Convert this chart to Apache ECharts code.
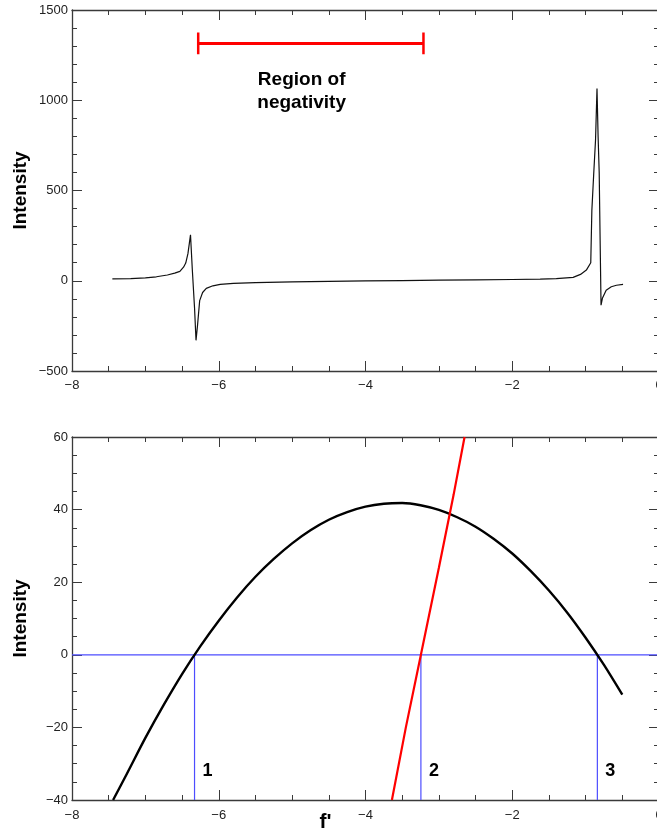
<!DOCTYPE html>
<html><head><meta charset="utf-8">
<script src="https://cdn.jsdelivr.net/npm/echarts@6/dist/echarts.min.js"></script>
<style>html,body{margin:0;padding:0;background:#fff}#c{width:657px;height:835px}</style>
</head><body><div id="c"></div>
<script>
// ---- Top panel: spectrum ----
const topX = [-7.45,-7.2,-7.0,-6.85,-6.7,-6.6,-6.53,-6.48,-6.45,-6.42,-6.40,-6.385,-6.36,-6.33,-6.31,-6.29,-6.26,-6.22,-6.17,-6.08,-5.98,-5.8,-5.5,-5.0,-4.5,-4.0,-3.5,-3.0,-2.5,-2.0,-1.62,-1.4,-1.17,-1.07,-0.99,-0.93,-0.915,-0.89,-0.865,-0.845,-0.83,-0.815,-0.805,-0.79,-0.77,-0.72,-0.65,-0.58,-0.49];
const topY = [10,12,16,22,32,42,52,75,98,150,210,255,60,-150,-330,-250,-110,-65,-42,-28,-20,-14,-10,-6,-3,-1,1,3,5,7,9,12,19,35,59,100,390,590,780,1065,800,600,300,-135,-95,-52,-33,-25,-20];
const regionX = [-6.28, -3.21];
const regionY = 1315;
const regionCap = 60;
const regionText = 'Region of\nnegativity';
const regionTextAt = [-4.87, 1050];

// ---- Bottom panel ----
const curveX = [-7.44,-7.25,-7.0,-6.75,-6.5,-6.25,-6.0,-5.75,-5.5,-5.25,-5.0,-4.75,-4.5,-4.25,-4.0,-3.75,-3.5,-3.25,-3.0,-2.75,-2.5,-2.25,-2.0,-1.75,-1.5,-1.25,-1.0,-0.75,-0.5];
const curveY = [-40,-32.7,-22.9,-13.8,-5.3,2.4,9.4,15.8,21.5,26.4,30.7,34.3,37.2,39.3,40.8,41.6,41.8,41.2,39.9,37.9,35.3,31.9,27.9,23.1,17.7,11.6,4.7,-2.8,-11.0];
const redX = [-3.64,-3.45,-3.245,-3.0,-2.8,-2.65];
const redY = [-40,-20,0,24,44,60];
const roots = [-6.33, -3.245, -0.84];
const rootLabels = ['1','2','3'];
const rootLabelY = -32;

const xTicks = {min:-8, max:0, interval:2};
const yTopTicks = {min:-500, max:1500, interval:500};
const yBotTicks = {min:-40, max:60, interval:20};

const zip = (a,b) => a.map((v,i)=>[v,b[i]]);
const FONT = 'Liberation Sans, Arial, sans-serif';
const AX = '#3a3a3a';
const fmt = v => v < 0 ? '\u2212' + Math.abs(v) : String(v);

function xAx(grid, pos, labels, margin, extra) {
  return Object.assign({
    type:'value', gridIndex:grid, position:pos, min:xTicks.min, max:xTicks.max, interval:xTicks.interval,
    axisLine:{show:true, onZero:false, lineStyle:{color:AX, width:1.3}},
    axisTick:{show:true, inside:true, length:10, lineStyle:{color:AX}},
    minorTick:{show:true, splitNumber:4, length:5, lineStyle:{color:AX}},
    splitLine:{show:false}, minorSplitLine:{show:false},
    axisLabel:{show:labels, formatter:fmt, color:'#222', fontSize:13, fontFamily:FONT, margin:margin}
  }, extra||{});
}
function yAx(grid, pos, t, split, labels, extra) {
  return Object.assign({
    type:'value', gridIndex:grid, position:pos, min:t.min, max:t.max, interval:t.interval,
    axisLine:{show:true, onZero:false, lineStyle:{color:AX, width:1.3}},
    axisTick:{show:true, inside:true, length:10, lineStyle:{color:AX}},
    minorTick:{show:true, splitNumber:split, length:5, lineStyle:{color:AX}},
    splitLine:{show:false}, minorSplitLine:{show:false},
    axisLabel:{show:labels, formatter:fmt, color:'#222', fontSize:13, fontFamily:FONT, margin:4}
  }, extra||{});
}
const yName = {name:'Intensity', nameLocation:'middle', nameGap:42, nameRotate:90, nameMoveOverlap:false,
  nameTextStyle:{fontFamily:FONT, fontWeight:'bold', fontSize:19, color:'#000'}};

const chart = echarts.init(document.getElementById('c'), null, {renderer:'canvas'});
chart.setOption({
  animation:false,
  backgroundColor:'#fff',
  grid:[
    {left:72, top:10, width:587, height:361, outerBoundsMode:'none', containLabel:false},
    {left:72, top:437, width:587, height:363, outerBoundsMode:'none', containLabel:false}
  ],
  xAxis:[
    xAx(0,'bottom',true,8),
    xAx(0,'top',false,8),
    xAx(1,'bottom',true,9,{name:"f'", nameLocation:'middle', nameGap:12, nameMoveOverlap:false,
      nameTextStyle:{fontFamily:FONT, fontWeight:'bold', fontSize:21, color:'#000', padding:[0,80,0,0], verticalAlign:'top'}}),
    xAx(1,'top',false,8)
  ],
  yAxis:[
    yAx(0,'left',yTopTicks,5,true,yName),
    yAx(0,'right',yTopTicks,5,false),
    yAx(1,'left',yBotTicks,4,true,yName),
    yAx(1,'right',yBotTicks,4,false)
  ],
  series:[
    {type:'line', xAxisIndex:0, yAxisIndex:0, data:zip(topX,topY), showSymbol:false,
      lineStyle:{color:'#111', width:1.2}},
    {type:'line', xAxisIndex:0, yAxisIndex:0, data:regionX.map(x=>[x,regionY]), showSymbol:false,
      lineStyle:{color:'#ff0000', width:3}},
    {type:'line', xAxisIndex:0, yAxisIndex:0, data:[[regionX[0],regionY-regionCap],[regionX[0],regionY+regionCap]], showSymbol:false,
      lineStyle:{color:'#ff0000', width:2.5}},
    {type:'line', xAxisIndex:0, yAxisIndex:0, data:[[regionX[1],regionY-regionCap],[regionX[1],regionY+regionCap]], showSymbol:false,
      lineStyle:{color:'#ff0000', width:2.5}},
    {type:'scatter', xAxisIndex:0, yAxisIndex:0, data:[{value:regionTextAt, name:regionText}], symbolSize:0,
      itemStyle:{color:'#000', opacity:1}, silent:true,
      label:{show:true, position:'top', distance:-23, formatter:p=>p.name, fontFamily:FONT, fontWeight:'bold', fontSize:19, lineHeight:23, color:'#000', opacity:1, align:'center', textBorderWidth:0}},
    // bottom
    {type:'line', xAxisIndex:2, yAxisIndex:2, data:[[xTicks.min,0],[xTicks.max,0]], showSymbol:false,
      lineStyle:{color:'#4d4dff', width:1.2}},
    ...roots.map(r=>({type:'line', xAxisIndex:2, yAxisIndex:2, data:[[r,0],[r,yBotTicks.min]], showSymbol:false,
      lineStyle:{color:'#4d4dff', width:1.2}})),
    {type:'line', xAxisIndex:2, yAxisIndex:2, data:zip(curveX,curveY), showSymbol:false, smooth:0.3,
      lineStyle:{color:'#000', width:2.4}},
    {type:'line', xAxisIndex:2, yAxisIndex:2, data:zip(redX,redY), showSymbol:false,
      lineStyle:{color:'#ff0000', width:2.2}},
    {type:'scatter', xAxisIndex:2, yAxisIndex:2, data:roots.map((r,i)=>({value:[r,rootLabelY], name:rootLabels[i]})), symbolSize:0,
      itemStyle:{color:'#000', opacity:1}, silent:true,
      label:{show:true, position:'right', distance:8, formatter:p=>p.name, fontFamily:FONT, fontWeight:'bold', fontSize:18, color:'#000', opacity:1, textBorderWidth:0}}
  ]
});
</script></body></html>
